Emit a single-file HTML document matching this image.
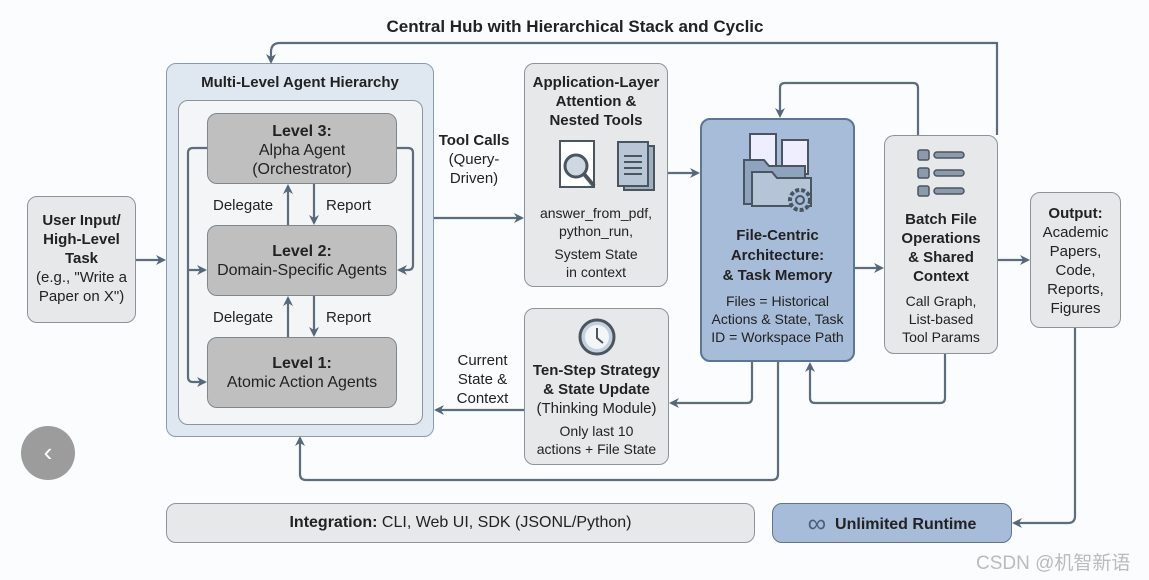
<!DOCTYPE html>
<html><head><meta charset="utf-8"><style>
body{margin:0;width:1149px;height:580px;background:#fbfcfd;font-family:"Liberation Sans",sans-serif;overflow:hidden;position:relative}
.b{position:absolute;box-sizing:border-box;border-radius:10px;text-align:center;color:#222}
.g{background:#e6e8ea;border:1.5px solid #8d9499}
.d{background:#bfbfbf;border:1.5px solid #80878c;font-size:16px;line-height:19px;padding-top:8px}
.t{position:absolute;font-size:15px;color:#222;text-align:center;line-height:19px}
b{font-weight:bold}
</style></head><body>
<div class="t" style="left:300px;top:17px;width:550px;font-size:17px"><b>Central Hub with Hierarchical Stack and Cyclic</b></div>
<div class="b" style="left:166px;top:63px;width:268px;height:374px;background:#dfe7f1;border:1.5px solid #8a9bb0"></div>
<div class="t" style="left:166px;top:73px;width:268px;font-size:15px"><b>Multi-Level Agent Hierarchy</b></div>
<div class="b" style="left:178px;top:100px;width:245px;height:325px;background:#f3f5f7;border:1.5px solid #8d9499"></div>
<div class="b d" style="left:207px;top:113px;width:190px;height:71px"><b>Level 3:</b><br>Alpha Agent<br>(Orchestrator)</div>
<div class="b d" style="left:207px;top:225px;width:190px;height:71px;padding-top:16px"><b>Level 2:</b><br>Domain-Specific Agents</div>
<div class="b d" style="left:207px;top:337px;width:190px;height:71px;padding-top:16px"><b>Level 1:</b><br>Atomic Action Agents</div>
<div class="t" style="left:213px;top:196px">Delegate</div><div class="t" style="left:326px;top:196px">Report</div>
<div class="t" style="left:213px;top:308px">Delegate</div><div class="t" style="left:326px;top:308px">Report</div>
<div class="b g" style="left:27px;top:196px;width:109px;height:127px;padding-top:14px;font-size:15px;line-height:19px"><b>User Input/<br>High-Level<br>Task</b><br>(e.g., "Write a<br>Paper on X")</div>
<div class="t" style="left:434px;top:131px;width:80px"><b>Tool&nbsp;Calls</b><br>(Query-<br>Driven)</div>
<div class="b g" style="left:524px;top:63px;width:144px;height:224px;font-size:15px;line-height:19px;padding-top:9px"><b>Application-Layer<br>Attention &amp;<br>Nested Tools</b>
<svg width="120" height="60" style="display:block;margin:8px auto 0"><rect x="24" y="3" width="34" height="46" fill="#fff" stroke="#4a5560" stroke-width="2"/><circle cx="40" cy="28" r="11" fill="#cfd8e2" stroke="#4a5560" stroke-width="3"/><path d="M48,36 L58,48" stroke="#4a5560" stroke-width="4"/><rect x="88" y="8" width="30" height="44" fill="#9fb0c3" stroke="#4a5560" stroke-width="2"/><rect x="82" y="4" width="30" height="44" fill="#b8c6d6" stroke="#4a5560" stroke-width="2"/><path d="M88,18h18M88,24h18M88,30h18M88,36h18" stroke="#4a5560" stroke-width="2"/></svg>
<div style="margin-top:6px;font-size:14px;line-height:18px">answer_from_pdf,<br>python_run,<br><span style="display:block;margin-top:5px">System State<br>in context</span></div></div>
<div class="b" style="left:700px;top:118px;width:155px;height:244px;background:#a6bcd8;border:2px solid #5a7596;font-size:15px;line-height:20px;padding-top:10px">
<svg width="80" height="82" style="display:block;margin:0 auto"><rect x="12" y="4" width="26" height="32" fill="#eef" stroke="#4a5560" stroke-width="2"/><rect x="44" y="10" width="26" height="34" fill="#eef" stroke="#4a5560" stroke-width="2"/><path d="M6,30 h20 l5,6 h36 v38 h-61z" fill="#8ea3bd" stroke="#4a5560" stroke-width="2"/><path d="M14,42 h20 l5,6 h34 v28 h-59z" fill="#b5c4d6" stroke="#4a5560" stroke-width="2"/><circle cx="62" cy="70" r="10" fill="#a6bcd8" stroke="#4a5560" stroke-width="4" stroke-dasharray="4 2"/><circle cx="62" cy="70" r="4" fill="none" stroke="#4a5560" stroke-width="2"/></svg>
<div style="margin-top:14px"><b>File-Centric<br>Architecture:<br>&amp; Task Memory</b></div><div style="font-size:14px;line-height:18px;margin-top:6px">Files = Historical<br>Actions &amp; State, Task<br>ID = Workspace Path</div></div>
<div class="b g" style="left:884px;top:135px;width:114px;height:219px;font-size:15px;line-height:19px;padding-top:12px">
<svg width="50" height="50" style="display:block;margin:0 auto"><g fill="#8c9aab" stroke="#4a5560" stroke-width="1.5"><rect x="2" y="2" width="11" height="10" rx="2"/><rect x="2" y="20" width="11" height="10" rx="2"/><rect x="2" y="38" width="11" height="10" rx="2"/><rect x="18" y="4" width="30" height="6" rx="3"/><rect x="18" y="22" width="30" height="6" rx="3"/><rect x="18" y="40" width="30" height="6" rx="3"/></g></svg>
<div style="margin-top:12px"><b>Batch File<br>Operations<br>&amp; Shared<br>Context</b></div><div style="font-size:14px;line-height:18px;margin-top:6px">Call Graph,<br>List-based<br>Tool Params</div></div>
<div class="b g" style="left:1030px;top:192px;width:91px;height:136px;font-size:15px;line-height:19px;padding-top:11px"><b>Output:</b><br>Academic<br>Papers,<br>Code,<br>Reports,<br>Figures</div>
<div class="b g" style="left:524px;top:308px;width:145px;height:157px;font-size:15px;line-height:19px;padding-top:8px">
<svg width="40" height="40" style="display:block;margin:0 auto"><circle cx="20" cy="20" r="17" fill="#c5d1de" stroke="#4a5560" stroke-width="3"/><circle cx="20" cy="20" r="12" fill="#f3f5f7"/><path d="M20,11 V21 L26,26" stroke="#4a5560" stroke-width="2" fill="none"/></svg>
<div style="margin-top:4px"><b>Ten-Step Strategy<br>&amp; State Update</b><br>(Thinking Module)</div><div style="font-size:14px;line-height:18px;margin-top:4px">Only last 10<br>actions + File State</div></div>
<div class="t" style="left:445px;top:351px;width:75px">Current<br>State &amp;<br>Context</div>
<div class="b g" style="left:166px;top:503px;width:589px;height:40px;line-height:38px;font-size:16px"><b>Integration:</b> CLI, Web UI, SDK (JSONL/Python)</div>
<div class="b" style="left:772px;top:503px;width:240px;height:40px;line-height:38px;font-size:16px;background:#a6bcd8;border:1.5px solid #5a7596"><span style="font-size:26px;color:#4a5f7a;vertical-align:-3px">∞</span>&nbsp; <b>Unlimited Runtime</b></div>
<div style="position:absolute;left:21px;top:426px;width:54px;height:54px;border-radius:50%;background:#9c9c9c;color:#fff;font-size:26px;line-height:52px;text-align:center">&lsaquo;</div>
<div style="position:absolute;left:976px;top:548px;font-size:19px;color:#bbb;font-family:'Liberation Sans','Noto Sans CJK SC',sans-serif">CSDN @机智新语</div>
<svg width="1149" height="580" style="position:absolute;left:0;top:0;z-index:5">
<defs><marker id="a" markerWidth="10" markerHeight="10" refX="8" refY="5" orient="auto" markerUnits="userSpaceOnUse"><path d="M0,0 L10,5 L0,10 L3,5z" fill="#56677a"/></marker></defs>
<g fill="none" stroke="#5d6d7e" stroke-width="2.2" marker-end="url(#a)">
<path d="M997,135 V43 H280 Q271,43 271,52 V62"/>
<path d="M136,260 H164"/>
<path d="M434,218 H522"/>
<path d="M668,173 H698"/>
<path d="M855,268 H882"/>
<path d="M998,260 H1028"/>
<path d="M1075,328 V516 Q1075,523 1068,523 H1014"/>
<path d="M524,410 H436"/>
<path d="M752,362 V398 Q752,403 747,403 H671"/>
<path d="M778,362 V474 Q778,480 772,480 H306 Q300,480 300,474 V438"/>
<path d="M945,354 V398 Q945,403 940,403 H815 Q810,403 810,398 V364"/>
<path d="M918,135 V88 Q918,83 913,83 H785 Q780,83 780,88 V116"/>
<path d="M207,148 H193 Q188,148 188,153 V377 Q188,382 193,382 H205"/>
<path d="M188,270 H205"/>
<path d="M397,148 H408 Q413,148 413,153 V265 Q413,270 408,270 H399"/>
<path d="M288,225 V186"/><path d="M314,184 V223"/>
<path d="M288,337 V298"/><path d="M314,296 V335"/>
</g>
</svg>
</body></html>
